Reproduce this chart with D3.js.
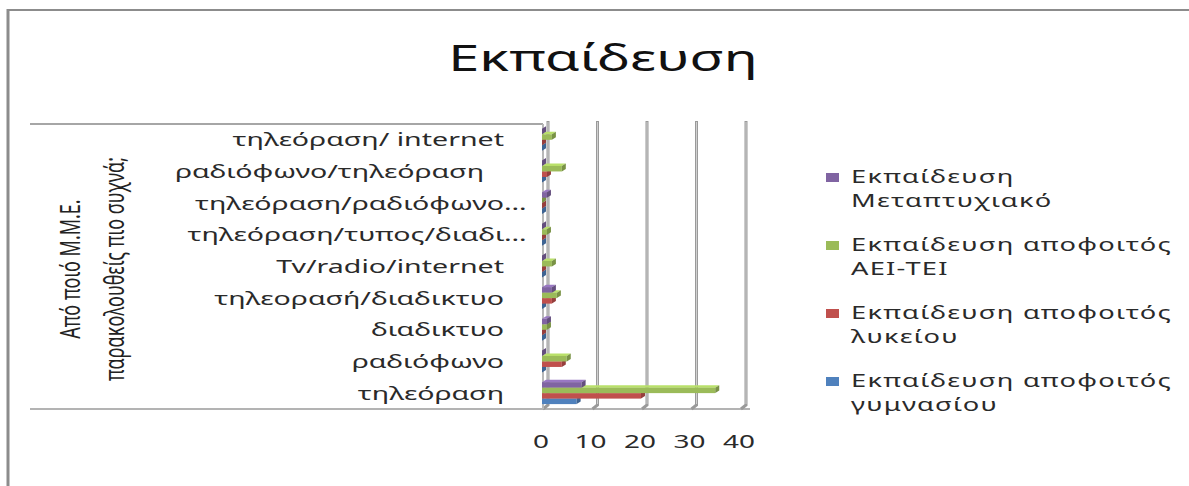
<!DOCTYPE html>
<html><head><meta charset="utf-8">
<script src="https://cdn.jsdelivr.net/npm/d3@7"></script>
<style>
body{margin:0;background:#fff}
svg{display:block}
text{font-family:"Noto Sans","Open Sans",sans-serif}
</style>
</head><body>
<svg id="chart" width="1189" height="486"></svg>
<script>
// ---- data (first category / first series drawn at the bottom, as in the original) ----
const categories = ["τηλεόραση","ραδιόφωνο","διαδικτυο","τηλεορασή/διαδικτυο","Tv/radio/internet","τηλεόραση/τυπος/διαδι…","τηλεόραση/ραδιόφωνο…","ραδιόφωνο/τηλεόραση","τηλεόραση/ internet"];
const seriesNames = ["Εκπαίδευση αποφοιτός γυμνασίου","Εκπαίδευση αποφοιτός λυκείου","Εκπαίδευση αποφοιτός ΑΕΙ-ΤΕΙ","Εκπαίδευση Μεταπτυχιακό"];
const gymnasiou    = [7, 0, 0, 0, 0, 0, 0, 0, 0];
const lykeiou      = [20, 4, 0, 2, 0, 0, 0, 1, 0];
const aeiTei       = [35, 5, 1, 3, 2, 1, 0, 4, 2];
const metaptyxiako = [8, 0, 1, 2, 0, 0, 1, 0, 0];
const xTicks = [0, 10, 20, 30, 40];
const legendLines = [["Εκπαίδευση","Μεταπτυχιακό"],["Εκπαίδευση αποφοιτός","ΑΕΙ-ΤΕΙ"],["Εκπαίδευση αποφοιτός","λυκείου"],["Εκπαίδευση αποφοιτός","γυμνασίου"]];
const titleText = "Εκπαίδευση";
const axisTitle = ["Από ποιό Μ.Μ.Ε.","παρακολουθείς πιο συχνά;"];

// ---- styling / layout ----
const seriesValues = [gymnasiou, lykeiou, aeiTei, metaptyxiako];
const colors = ["#4F81BD","#C0504D","#9BBB59","#8064A2"];
const SX = 1.55;          // horizontal stretch of the original picture
const svg = d3.select("#chart");

const x = d3.scaleLinear().domain([0, 40]).range([542, 740]);
const y = d3.scaleBand().domain(categories).range([409, 124]).padding(0);
const inner = d3.scaleBand().domain([3, 2, 1, 0]).range([4.8, y.bandwidth() - 4.9]).padding(0);

function stretched(sel, tx, ty, sx) { return sel.attr("transform", `translate(${tx},${ty}) scale(${sx || SX},1)`); }

// outer chart border
svg.append("line").attr("x1", 8).attr("x2", 8).attr("y1", 9).attr("y2", 486).attr("stroke", "#8c8c8c").attr("stroke-width", 3);
svg.append("line").attr("x1", 7).attr("x2", 1189).attr("y1", 10).attr("y2", 10).attr("stroke", "#8c8c8c").attr("stroke-width", 2);

// plot area lines
svg.append("line").attr("x1", 30).attr("x2", 543).attr("y1", 124).attr("y2", 124).attr("stroke", "#a6a6a6").attr("stroke-width", 2);
svg.append("line").attr("x1", 30).attr("x2", 750).attr("y1", 409).attr("y2", 409).attr("stroke", "#b3b3b3").attr("stroke-width", 2);

// back-wall gridlines (3D)
const depth = 5;
svg.append("g").selectAll("path").data(xTicks).join("path")
  .attr("d", d => `M${x(d) + depth + 1},${121} L${x(d) + depth + 1},${405} L${x(d) + 1},${409}`)
  .attr("fill", "none").attr("stroke", "#9a9a9a").attr("stroke-width", 3);
svg.append("g").selectAll("path").data(xTicks).join("path")
  .attr("d", d => `M${x(d) + depth + 1},${122} L${x(d) + depth + 1},${404}`)
  .attr("fill", "none").attr("stroke", "#d0d0d0").attr("stroke-width", 1);
// category axis line
svg.append("line").attr("x1", 543).attr("x2", 543).attr("y1", 124).attr("y2", 409).attr("stroke", "#b8b8b8").attr("stroke-width", 2);

// 3D bars
const dx = 4, dy = 2.5;
seriesValues.forEach((vals, si) => {
  const g = svg.append("g");
  const base = d3.color(colors[si]);
  categories.forEach((c, ci) => {
    const v = vals[ci];
    const y0 = y(c) + inner(si), h = inner.bandwidth();
    const x0 = x(0), x1 = x(v);
    g.append("path").attr("d", `M${x0},${y0} L${x0 + dx},${y0 - dy} L${x1 + dx},${y0 - dy} L${x1},${y0} Z`)
      .attr("fill", base.brighter(0.5));
    if (x1 > x0) g.append("rect").attr("x", x0).attr("y", y0).attr("width", x1 - x0).attr("height", h).attr("fill", colors[si]);
    g.append("path").attr("d", `M${x1},${y0} L${x1 + dx},${y0 - dy} L${x1 + dx},${y0 + h - dy} L${x1},${y0 + h} Z`)
      .attr("fill", base.darker(0.7));
  });
});

// category labels
const labelShift = {"ραδιόφωνο/τηλεόραση": -20};
svg.append("g").selectAll("text").data(categories).join("text")
  .attr("text-anchor", "end").attr("font-size", 18.8).attr("fill", "#2a2a2a")
  .text(d => d)
  .each(function(d) {
    let shift = labelShift[d] || 0;
    if (d.endsWith("…")) shift += this.getSubStringLength(d.length - 1, 1) * 1.52;
    stretched(d3.select(this), 504 + shift, y(d) + y.bandwidth() / 2 + 6.5, 1.52);
  });

// x tick labels
svg.append("g").selectAll("text").data(xTicks).join("text")
  .attr("text-anchor", "middle").attr("font-size", 18).attr("fill", "#2a2a2a")
  .text(d => d)
  .each(function(d) { stretched(d3.select(this), x(d) - 1, 448); });

// title
stretched(svg.append("text").attr("text-anchor", "middle").attr("font-size", 36).attr("fill", "#111").text(titleText), 603, 71);

// axis title (rotated)
axisTitle.forEach((t, i) => {
  svg.append("text").attr("text-anchor", "middle").attr("font-size", 18).attr("fill", "#222")
    .attr("transform", `translate(${[80, 124][i]},269) scale(1.5,1) rotate(-90)`)
    .text(t);
});

// legend (top to bottom: last series first)
const lg = svg.append("g");
legendLines.forEach((lines, i) => {
  const si = 3 - i;
  const by = 183 + 68 * i;
  lg.append("rect").attr("x", 826).attr("y", by - 10).attr("width", 13).attr("height", 9).attr("fill", colors[si]);
  lines.forEach((t, li) => {
    stretched(lg.append("text").attr("font-size", 17.6).attr("letter-spacing", 0.8).attr("fill", "#2a2a2a").text(t), 851, by + 24 * li);
  });
});
</script>
</body></html>
